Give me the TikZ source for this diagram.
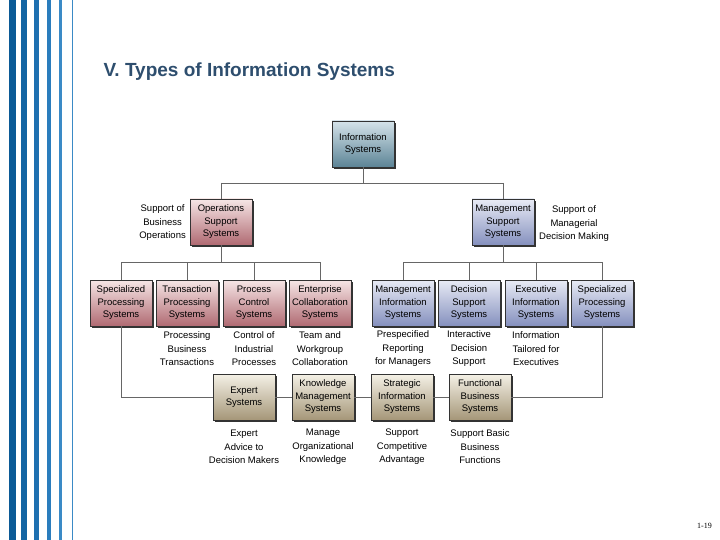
\documentclass[tikz,border=0pt]{standalone}
\usepackage{fontspec}
\setmainfont{Liberation Sans}
\usetikzlibrary{shadows}
\definecolor{titleblue}{HTML}{2E4E6E}
\definecolor{redT}{HTML}{F6E6E6}\definecolor{redB}{HTML}{B06A72}
\definecolor{bluT}{HTML}{E8EBF5}\definecolor{bluB}{HTML}{8590BE}
\definecolor{tanT}{HTML}{F4F1E6}\definecolor{tanB}{HTML}{A59678}
\definecolor{tealT}{HTML}{D5E3EA}\definecolor{tealB}{HTML}{5C8496}
\definecolor{s1}{HTML}{0B5A96}\definecolor{s2}{HTML}{1465A3}\definecolor{s3}{HTML}{1E70B0}
\definecolor{s4}{HTML}{2A7DBD}\definecolor{s5}{HTML}{3A8AC6}
\tikzset{
 box/.style={draw=black!80,line width=0.6pt,minimum width=62pt,minimum height=46pt,inner sep=1pt,align=center,
   font=\fontsize{9.5}{12.5}\selectfont,drop shadow={shadow xshift=2pt,shadow yshift=-2pt,fill=black,opacity=0.8}},
 red/.style={box,top color=redT,bottom color=redB},
 blu/.style={box,top color=bluT,bottom color=bluB},
 tan/.style={box,top color=tanT,bottom color=tanB},
 teal/.style={box,top color=tealT,bottom color=tealB},
 desc/.style={align=center,font=\fontsize{9.5}{13.5}\selectfont,inner sep=0pt},
 conn/.style={draw=black!60,line width=0.7pt}
}
\begin{document}
\begin{tikzpicture}[x=1pt,y=-1pt]
\useasboundingbox (0,0) rectangle (720,540);
\fill[white] (0,0) rectangle (720,540);
% stripes
\fill[s1] (9,0) rectangle (16,540);
\fill[s2] (21,0) rectangle (27,540);
\fill[s3] (34,0) rectangle (39,540);
\fill[s4] (47,0) rectangle (51,540);
\fill[s5] (59,0) rectangle (62,540);
\fill[s5] (71.5,0) rectangle (72.5,540);
\node[anchor=west,font=\bfseries\fontsize{19}{22}\selectfont,text=titleblue] (title) at (100,72) {V. Types of Information Systems};
\node[anchor=east,font=\bfseries\fontsize{8}{9}\selectfont,inner sep=0pt] (pg) at (712,526) {\setmainfont{Liberation Serif}1-19};
% connectors first
\coordinate (j0) at (363,183);
\coordinate (jl) at (221,183); \coordinate (jr) at (503,183);
\coordinate (kl) at (221,262); \coordinate (kr) at (503,262);
\coordinate (k1) at (121,262); \coordinate (k4) at (320,262);
\coordinate (k5) at (403,262); \coordinate (k8) at (602,262);
\coordinate (b1) at (121,397); \coordinate (b8) at (602,397);
\node[teal] (is) at (363,144) {Information\\Systems};
\node[red] (oss) at (221,222) {Operations\\Support\\Systems};
\node[blu] (mss) at (503,222) {Management\\Support\\Systems};
\node[red] (spl) at (121,303) {Specialized\\Processing\\Systems};
\node[red] (tps) at (187,303) {Transaction\\Processing\\Systems};
\node[red] (pcs) at (254,303) {Process\\Control\\Systems};
\node[red] (ecs) at (320,303) {Enterprise\\Collaboration\\Systems};
\node[blu] (mis) at (403,303) {Management\\Information\\Systems};
\node[blu] (dss) at (469,303) {Decision\\Support\\Systems};
\node[blu] (eis) at (536,303) {Executive\\Information\\Systems};
\node[blu] (spr) at (602,303) {Specialized\\Processing\\Systems};
\node[tan] (es) at (244,397) {Expert\\Systems};
\node[tan] (kms) at (323,397) {Knowledge\\Management\\Systems};
\node[tan] (sis) at (402,397) {Strategic\\Information\\Systems};
\node[tan] (fbs) at (480,397) {Functional\\Business\\Systems};
\begin{scope}[on background layer/.style={}]
\end{scope}
\draw[conn] (is.south) -- (j0) (jl) -- (jr) (jl) -- (oss.north) (jr) -- (mss.north);
\draw[conn] (oss.south) -- (kl) (k1) -- (k4) (k1) -- (spl.north) (tps.north) -- (tps.north|-k1) (pcs.north) -- (pcs.north|-k1) (k4) -- (ecs.north);
\draw[conn] (mss.south) -- (kr) (k5) -- (k8) (k5) -- (mis.north) (dss.north) -- (dss.north|-k5) (eis.north) -- (eis.north|-k5) (k8) -- (spr.north);
\draw[conn] (spl.south) -- (b1) -- (es.west) (es.east) -- (kms.west) (kms.east) -- (sis.west) (sis.east) -- (fbs.west) (fbs.east) -- (b8) -- (spr.south);
% labels
\node[desc,anchor=east] (l1) at (186,223) {Support of\\Business\\Operations};
\node[desc] (l2) at (574,224) {Support of\\Managerial\\Decision Making};
\node[desc] (d1) at (187,349) {Processing\\Business\\Transactions};
\node[desc] (d2) at (254,349) {Control of\\Industrial\\Processes};
\node[desc] (d3) at (320,349) {Team and\\Workgroup\\Collaboration};
\node[desc] (d4) at (403,349) {Prespecified\\Reporting\\for Managers};
\node[desc] (d5) at (469,349) {Interactive\\Decision\\Support};
\node[desc] (d6) at (536,349) {Information\\Tailored for\\Executives};
\node[desc] (e1) at (244,447) {Expert\\Advice to\\Decision Makers};
\node[desc] (e2) at (323,447) {Manage\\Organizational\\Knowledge};
\node[desc] (e3) at (402,447) {Support\\Competitive\\Advantage};
\node[desc] (e4) at (480,447) {Support Basic\\Business\\Functions};
\end{tikzpicture}
\end{document}
